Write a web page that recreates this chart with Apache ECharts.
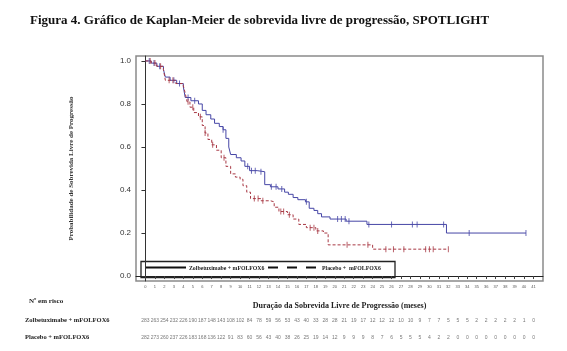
<!DOCTYPE html>
<html>
<head>
<meta charset="utf-8">
<style>
    html, body { margin: 0; padding: 0; background: #fff; }
    #chart { width: 567px; height: 351px; }
</style>
<script src="https://cdn.jsdelivr.net/npm/echarts@6/dist/echarts.min.js"></script>
</head>
<body>
<div id="chart"></div>
<script>
'use strict';

// curvas KM (mês, probabilidade após o evento)
var zolbeTime = [0, 0.6, 1.2, 1.9, 2.1, 2.6, 3.3, 4.0, 4.2, 4.8, 5.6, 6.0, 6.4, 6.9, 7.3, 7.8, 8.2, 8.5, 8.8, 9.0, 9.6, 10.1, 10.5, 11.0, 11.8, 12.6, 13.2, 14.0, 14.7, 15.1, 15.6, 16.1, 16.9, 17.3, 17.8, 18.2, 18.6, 19.5, 21.2, 23.4, 31.8, 40.2];
var zolbeSurv = [1.0, 0.99, 0.975, 0.96, 0.925, 0.91, 0.895, 0.88, 0.83, 0.815, 0.80, 0.77, 0.75, 0.73, 0.71, 0.695, 0.68, 0.64, 0.60, 0.565, 0.55, 0.535, 0.51, 0.49, 0.485, 0.425, 0.415, 0.405, 0.39, 0.38, 0.365, 0.355, 0.345, 0.315, 0.305, 0.29, 0.275, 0.265, 0.255, 0.24, 0.20, 0.20];
var placeboTime = [0, 0.6, 1.2, 1.9, 2.1, 3.2, 4.0, 4.2, 4.4, 4.7, 5.1, 5.6, 6.0, 6.3, 6.6, 7.0, 7.5, 8.0, 8.5, 9.0, 9.5, 10.0, 10.3, 10.7, 11.1, 12.2, 13.2, 13.6, 14.1, 15.0, 15.6, 16.2, 17.0, 18.0, 18.8, 19.3, 24.0, 32.0];
var placeboSurv = [1.0, 0.99, 0.975, 0.96, 0.91, 0.895, 0.885, 0.85, 0.81, 0.785, 0.76, 0.74, 0.70, 0.665, 0.635, 0.61, 0.585, 0.55, 0.51, 0.475, 0.46, 0.45, 0.42, 0.39, 0.36, 0.35, 0.345, 0.32, 0.30, 0.285, 0.265, 0.24, 0.225, 0.21, 0.20, 0.145, 0.125, 0.125];

// censuras
var zolbeCensor = [0.4, 0.9, 1.5, 3.0, 3.6, 4.5, 5.2, 8.2, 10.8, 11.2, 11.6, 12.2, 13.3, 13.8, 14.4, 17.0, 20.3, 20.7, 21.1, 21.5, 23.6, 26.0, 28.2, 28.7, 31.5, 34.2, 40.2];
var placeboCensor = [0.5, 1.0, 1.6, 2.5, 2.9, 4.5, 5.0, 5.8, 6.3, 7.1, 8.3, 11.5, 11.9, 12.4, 14.3, 14.6, 15.2, 17.4, 17.8, 18.2, 21.3, 23.5, 25.4, 26.2, 27.3, 29.6, 30.0, 30.4, 32.0];

// nº em risco
var months = [];
for (var m = 0; m <= 41; m++) { months.push(m); }
var zolbeRisk = [283, 263, 254, 232, 226, 190, 187, 148, 143, 108, 102, 84, 78, 59, 56, 53, 43, 40, 33, 28, 28, 21, 19, 17, 12, 12, 12, 10, 10, 9, 7, 7, 5, 5, 5, 2, 2, 2, 2, 2, 1, 0];
var placeboRisk = [282, 273, 260, 237, 226, 183, 168, 136, 122, 91, 83, 60, 56, 43, 40, 38, 26, 25, 19, 14, 12, 9, 9, 9, 8, 7, 6, 5, 5, 5, 4, 2, 2, 0, 0, 0, 0, 0, 0, 0, 0, 0];

var yTicks = [0, 0.2, 0.4, 0.6, 0.8, 1.0];
var zolbeName = 'Zolbetuximabe + mFOLFOX6';
var placeboName = 'Placebo + mFOLFOX6';

var BLUE = '#4646a6';
var RED = '#a83844';
var SERIF = '"Liberation Serif", "DejaVu Serif", serif';
var SANS = '"Liberation Sans", Arial, sans-serif';

function pairs(xs, ys) {
    return xs.map(function (x, i) { return [x, ys[i]]; });
}

function survAt(xs, ys, t) {
    var s = ys[0];
    for (var i = 0; i < xs.length; i++) {
        if (xs[i] <= t) { s = ys[i]; }
    }
    return s;
}

function censorPoints(cs, xs, ys) {
    return cs.map(function (t) { return [t, survAt(xs, ys, t)]; });
}

function riskPoints(vals, row) {
    return vals.map(function (v, i) { return [months[i], row, v]; });
}

var chart = echarts.init(document.getElementById('chart'), null, {renderer: 'canvas'});

var option = {
    animation: false,
    backgroundColor: '#fff',
    title: {
        text: 'Figura 4. Gráfico de Kaplan-Meier de sobrevida livre de progressão, SPOTLIGHT',
        left: 25,
        top: 9,
        textStyle: {fontFamily: SERIF, fontWeight: 'bold', fontSize: 13, color: '#111'}
    },
    grid: [
        {left: 136, top: 56, right: 24, bottom: 70, show: true, borderColor: '#8a8a8a', borderWidth: 1.5},
        {left: 136, top: 312, right: 24, height: 34}
    ],
    xAxis: [
        {
            type: 'value', gridIndex: 0, min: -1, max: 42, interval: 1,
            name: 'Duração da Sobrevida Livre de Progressão (meses)',
            nameLocation: 'middle', nameGap: 21,
            nameTextStyle: {fontFamily: SERIF, fontWeight: 'bold', fontSize: 8, color: '#222'},
            splitLine: {show: false},
            axisLine: {lineStyle: {color: '#222', width: 1}},
            axisTick: {customValues: months, length: 3, lineStyle: {color: '#444'}},
            axisLabel: {customValues: months, fontSize: 4, color: '#555', margin: 4, fontFamily: SANS}
        },
        {
            type: 'value', gridIndex: 1, min: -1, max: 42, show: false
        }
    ],
    yAxis: [
        {
            type: 'value', gridIndex: 0, min: -0.023, max: 1.023,
            name: 'Probabilidade de Sobrevida Livre de Progressão',
            nameLocation: 'middle', nameGap: 61,
            nameTextStyle: {fontFamily: SERIF, fontWeight: 'bold', fontSize: 7, color: '#333'},
            splitLine: {show: false},
            axisLine: {show: true, lineStyle: {color: '#333', width: 1}},
            axisTick: {customValues: yTicks, length: 4, lineStyle: {color: '#333'}},
            axisLabel: {
                customValues: yTicks, fontSize: 8, color: '#333', margin: 5, fontFamily: SANS,
                formatter: function (v) { return v.toFixed(1); }
            }
        },
        {
            type: 'category', gridIndex: 1, inverse: true,
            data: [zolbeName, placeboName],
            axisLine: {show: false},
            axisTick: {show: false},
            axisLabel: {
                align: 'left', margin: 111,
                fontFamily: SERIF, fontWeight: 'bold', fontSize: 6.5, color: '#222'
            }
        }
    ],
    graphic: [
        {
            type: 'text', left: 29, top: 298,
            style: {text: 'Nº em risco', font: 'bold 7px ' + SERIF, fill: '#222'}
        },
        {
            type: 'group',
            children: [
                {type: 'rect', shape: {x: 141, y: 261.5, width: 254, height: 16}, style: {fill: '#fff', stroke: '#222', lineWidth: 1.3}},
                {type: 'line', shape: {x1: 146, y1: 267.5, x2: 186, y2: 267.5}, style: {stroke: '#111', lineWidth: 2}},
                {type: 'text', x: 189, y: 265.5, style: {text: zolbeName, font: 'bold 5.8px ' + SERIF, fill: '#222'}},
                {type: 'line', shape: {x1: 268, y1: 267.5, x2: 318, y2: 267.5}, style: {stroke: '#111', lineWidth: 2, lineDash: [10, 9]}},
                {type: 'text', x: 322, y: 265.5, style: {text: 'Placebo +  mFOLFOX6', font: 'bold 5.8px ' + SERIF, fill: '#222'}}
            ]
        }
    ],
    series: [
        {
            name: zolbeName, type: 'line', xAxisIndex: 0, yAxisIndex: 0,
            step: 'end', symbol: 'none', z: 3,
            lineStyle: {color: BLUE, width: 1},
            data: pairs(zolbeTime, zolbeSurv)
        },
        {
            name: placeboName, type: 'line', xAxisIndex: 0, yAxisIndex: 0,
            step: 'end', symbol: 'none', z: 3,
            lineStyle: {color: RED, width: 1, type: [3, 2]},
            data: pairs(placeboTime, placeboSurv)
        },
        {
            type: 'scatter', xAxisIndex: 0, yAxisIndex: 0, z: 4,
            symbol: 'rect', symbolSize: [1, 6],
            itemStyle: {color: BLUE},
            data: censorPoints(zolbeCensor, zolbeTime, zolbeSurv)
        },
        {
            type: 'scatter', xAxisIndex: 0, yAxisIndex: 0, z: 4,
            symbol: 'rect', symbolSize: [1, 6],
            itemStyle: {color: RED},
            data: censorPoints(placeboCensor, placeboTime, placeboSurv)
        },
        {
            type: 'scatter', xAxisIndex: 1, yAxisIndex: 1,
            symbolSize: 1, itemStyle: {color: 'rgba(0,0,0,0)'},
            label: {
                show: true, position: 'inside', fontSize: 5, color: '#555', fontFamily: SANS,
                formatter: function (p) { return String(p.value[2]); }
            },
            data: riskPoints(zolbeRisk, zolbeName).concat(riskPoints(placeboRisk, placeboName))
        }
    ]
};

chart.setOption(option);
</script>
</body>
</html>
